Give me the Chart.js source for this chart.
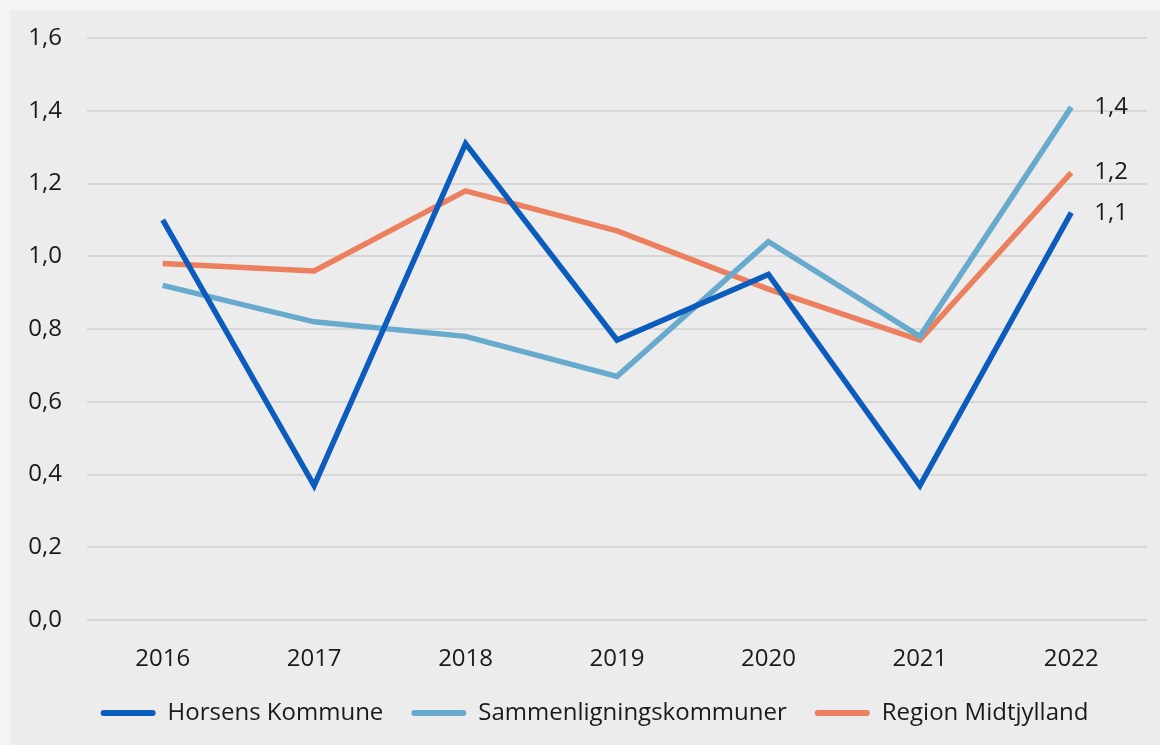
<!DOCTYPE html>
<html>
<head>
<meta charset="utf-8">
<script src="https://cdn.jsdelivr.net/npm/chart.js@4.4.0/dist/chart.umd.min.js"></script>
<style>
  html, body { margin: 0; padding: 0; background: #f5f4f2; }
  #panel { position: absolute; left: 10px; top: 10px; width: 1150px; height: 735px; background: #ececec; }
</style>
</head>
<body>
<div id="panel"><canvas id="trend" width="1150" height="735"></canvas></div>
<script>
// Data
const years = ['2016', '2017', '2018', '2019', '2020', '2021', '2022'];
const horsens = [1.10, 0.37, 1.31, 0.77, 0.95, 0.37, 1.12];
const sammenligning = [0.92, 0.82, 0.78, 0.67, 1.04, 0.78, 1.41];
const region = [0.98, 0.96, 1.18, 1.07, 0.91, 0.77, 1.23];
const yTicks = [0, 0.2, 0.4, 0.6, 0.8, 1.0, 1.2, 1.4, 1.6];

const fmt = v => v.toFixed(1).replace('.', ',');
const font = { family: 'Open Sans', size: 24 };

// labels for the last point of each line
const endLabels = {
    id: 'endLabels',
    afterLayout(chart) {
        // nudge legend a bit right so it sits centred under the panel
        chart.legend.left += 10;
        chart.legend.right += 10;
    },
    afterDatasetsDraw(chart) {
        const ctx = chart.ctx;
        ctx.save();
        ctx.font = '24px "Open Sans"';
        ctx.fillStyle = '#1a1a1a';
        ctx.textBaseline = 'middle';
        chart.data.datasets.forEach((ds, i) => {
            const pts = chart.getDatasetMeta(i).data;
            const last = pts[pts.length - 1];
            const v = ds.data[ds.data.length - 1];
            ctx.fillText(fmt(v), last.x + 23, last.y);
        });
        ctx.restore();
    }
};

const trend = document.getElementById('trend').getContext('2d');
let trendChart = new Chart(trend, {
    type: 'line',
    data: {
        labels: years,
        datasets: [{
            label: 'Horsens Kommune',
            data: horsens,
            borderColor: '#0b5cbd',
            backgroundColor: '#0b5cbd',
            borderWidth: 5.5,
            pointRadius: 0,
            tension: 0
        }, {
            label: 'Sammenligningskommuner',
            data: sammenligning,
            borderColor: '#68aacd',
            backgroundColor: '#68aacd',
            borderWidth: 5.5,
            pointRadius: 0,
            tension: 0
        }, {
            label: 'Region Midtjylland',
            data: region,
            borderColor: '#ec7f5d',
            backgroundColor: '#ec7f5d',
            borderWidth: 5.5,
            pointRadius: 0,
            tension: 0
        }]
    },
    options: {
        responsive: false,
        animation: false,
        layout: { padding: { top: 28, right: 13, left: 12, bottom: 10 } },
        scales: {
            x: {
                offset: true,
                grid: { display: false },
                border: { display: false },
                ticks: { color: '#1a1a1a', font: font, padding: 17 },
                afterFit: scale => { scale.height -= 18; }
            },
            y: {
                min: 0,
                max: 1.6,
                afterBuildTicks: axis => { axis.ticks = yTicks.map(v => ({ value: v })); },
                afterFit: scale => {
                    scale.width = 65;
                    scale.paddingTop = 0;
                    scale.paddingBottom = 0;
                },
                grid: { color: '#d7d7d7', lineWidth: 2, drawTicks: false },
                border: { display: false },
                ticks: {
                    color: '#1a1a1a',
                    font: font,
                    padding: 25,
                    callback: v => fmt(v)
                }
            }
        },
        plugins: {
            legend: {
                position: 'bottom',
                labels: {
                    color: '#1a1a1a',
                    font: font,
                    boxWidth: 55,
                    boxHeight: 6,
                    padding: 28,
                    useBorderRadius: true,
                    borderRadius: 3,
                    generateLabels(chart) {
                        const items = Chart.defaults.plugins.legend.labels.generateLabels(chart);
                        items.forEach(it => { it.lineWidth = 0; });
                        return items;
                    }
                }
            },
            tooltip: { enabled: false }
        }
    },
    plugins: [endLabels]
});
</script>
</body>
</html>
